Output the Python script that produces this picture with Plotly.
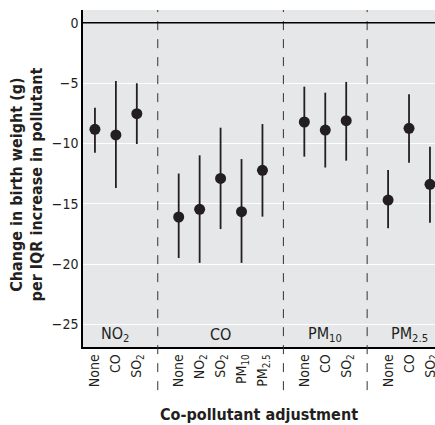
import plotly.graph_objects as go

# Data
pollutants = ["NO<sub>2</sub>", "CO", "PM<sub>10</sub>", "PM<sub>2.5</sub>"]
adjust_NO2 = ["None", "CO", "SO<sub>2</sub>"]
adjust_CO = ["None", "NO<sub>2</sub>", "SO<sub>2</sub>", "PM<sub>10</sub>", "PM<sub>2.5</sub>"]
adjust_PM10 = ["None", "CO", "SO<sub>2</sub>"]
adjust_PM25 = ["None", "CO", "SO<sub>2</sub>"]

est_NO2 = [-8.84, -9.3, -7.54]
lo_NO2 = [-10.77, -13.7, -10.05]
hi_NO2 = [-7.04, -4.83, -5.02]

est_CO = [-16.1, -15.46, -12.9, -15.66, -12.23]
lo_CO = [-19.5, -19.9, -17.1, -19.9, -16.07]
hi_CO = [-12.5, -10.99, -8.7, -11.3, -8.4]

est_PM10 = [-8.23, -8.9, -8.12]
lo_PM10 = [-11.1, -12.0, -11.43]
hi_PM10 = [-5.3, -5.8, -4.91]

est_PM25 = [-14.7, -8.75, -13.39]
lo_PM25 = [-17.03, -11.6, -16.57]
hi_PM25 = [-12.2, -5.93, -10.27]

groups = [
    (adjust_NO2, est_NO2, lo_NO2, hi_NO2),
    (adjust_CO, est_CO, lo_CO, hi_CO),
    (adjust_PM10, est_PM10, lo_PM10, hi_PM10),
    (adjust_PM25, est_PM25, lo_PM25, hi_PM25),
]

FONT = "DejaVu Sans Condensed, Liberation Sans, Arial, sans-serif"
DARK = "#231f20"

xs, ys, em, ep, labels = [], [], [], [], []
centers, seps = [], []
pos = 0
for gi, (adj, est, lo, hi) in enumerate(groups):
    start = pos
    for a, e, l, h in zip(adj, est, lo, hi):
        xs.append(pos)
        ys.append(e)
        em.append(e - l)
        ep.append(h - e)
        labels.append(a)
        pos += 1
    centers.append((start + pos - 1) / 2)
    if gi < len(groups) - 1:
        seps.append(pos)
    pos += 1

fig = go.Figure()
fig.add_trace(go.Scatter(
    x=xs, y=ys, mode="markers",
    marker=dict(size=11, color=DARK),
    error_y=dict(type="data", symmetric=False, array=ep, arrayminus=em,
                 thickness=1.8, width=0, color=DARK),
    showlegend=False, cliponaxis=False,
))

shapes = []
for s in seps:
    shapes.append(dict(type="line", xref="x", yref="paper", x0=s, x1=s,
                       y0=-0.128, y1=1, line=dict(color="#333333", width=1, dash="dash")))
shapes.append(dict(type="line", xref="paper", yref="y", x0=0, x1=1, y0=0, y1=0,
                   line=dict(color="black", width=1.5)))

annotations = []
for c, p in zip(centers, pollutants):
    annotations.append(dict(x=c, y=-25.85, xref="x", yref="y", text=p, showarrow=False,
                            font=dict(family=FONT, size=16, color=DARK), yanchor="middle"))
annotations.append(dict(x=0.5, y=-0.199, xref="paper", yref="paper",
                        text="<b>Co-pollutant adjustment</b>", showarrow=False,
                        font=dict(family=FONT, size=16, color=DARK), yanchor="middle"))
annotations.append(dict(x=-0.1605, y=0.481, xref="paper", yref="paper",
                        text="<b>Change in birth weight (g)<br>per IQR increase in pollutant</b>",
                        showarrow=False, textangle=-90,
                        font=dict(family=FONT, size=16, color=DARK),
                        xanchor="center", yanchor="middle"))

fig.update_layout(
    width=435, height=425,
    margin=dict(l=83, r=0, t=10, b=78),
    paper_bgcolor="white", plot_bgcolor="#e6e7e8",
    font=dict(family=FONT, size=13, color=DARK),
    shapes=shapes, annotations=annotations,
    xaxis=dict(range=[-0.57, 16.24], tickmode="array", tickvals=xs, ticktext=labels,
               tickangle=-90, showgrid=False, zeroline=False, showline=True,
               linecolor="black", linewidth=1.5, ticks="", tickfont=dict(size=14),
               automargin=False, ticklabeloverflow="allow"),
    yaxis=dict(range=[-26.87, 1.05], tickvals=[0, -5, -10, -15, -20, -25],
               showgrid=True, gridcolor="white", gridwidth=1.2, zeroline=False,
               showline=True, linecolor="black", linewidth=1.5, ticks="",
               tickfont=dict(size=14), automargin=False),
)

fig.write_html("out.html", config={"displayModeBar": False},
               post_script="document.body.style.margin='0';document.body.style.overflow='hidden';")
